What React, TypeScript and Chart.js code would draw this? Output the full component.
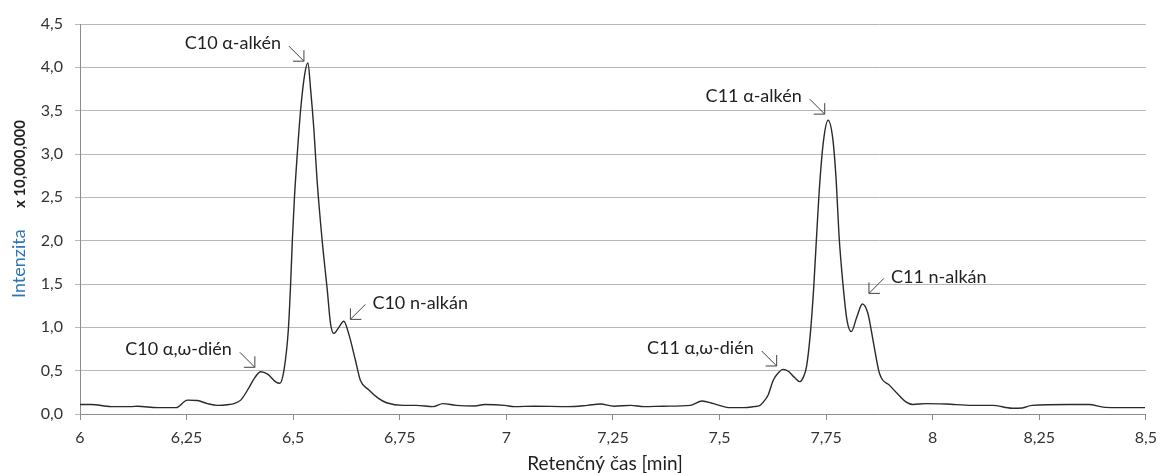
import React, { useEffect, useRef } from "react";
import { Chart, registerables } from "chart.js";

Chart.register(...registerables);

// Retention time [min]
const times = [
  6.0, 6.026, 6.073, 6.12, 6.135, 6.182, 6.225, 6.252, 6.275, 6.299, 6.322, 6.35, 6.361, 6.377,
  6.397, 6.41, 6.424, 6.44, 6.459, 6.4685, 6.4785, 6.4886, 6.494, 6.498, 6.503, 6.5096, 6.5175,
  6.527, 6.5345, 6.541, 6.5486, 6.556, 6.568, 6.58, 6.5875, 6.595, 6.607, 6.6186, 6.63, 6.646,
  6.6575, 6.677, 6.7, 6.719, 6.758, 6.789, 6.828, 6.851, 6.882, 6.926, 6.949, 6.996, 7.019, 7.066,
  7.144, 7.19, 7.22, 7.253, 7.292, 7.323, 7.369, 7.432, 7.459, 7.486, 7.525, 7.556, 7.58, 7.595,
  7.603, 7.614, 7.626, 7.637, 7.649, 7.662, 7.676, 7.688, 7.696, 7.704, 7.713, 7.721, 7.727,
  7.735, 7.744, 7.7546, 7.766, 7.774, 7.78, 7.79, 7.799, 7.809, 7.822, 7.835, 7.848, 7.86, 7.875,
  7.899, 7.922, 7.937, 7.953, 7.984, 8.031, 8.093, 8.14, 8.186, 8.21, 8.233, 8.319, 8.366, 8.404,
  8.498,
];

// Intensity x 10,000,000
const intensity = [
  0.11, 0.11, 0.085, 0.085, 0.09, 0.073, 0.073, 0.16, 0.155, 0.12, 0.1, 0.11, 0.12, 0.16,
  0.31, 0.42, 0.488, 0.46, 0.37, 0.354, 0.51, 0.97, 1.5, 2.0, 2.5, 3.0, 3.51,
  3.92, 4.05, 3.74, 3.28, 2.7, 2.0, 1.43, 1.046, 0.93, 1.0, 1.07, 0.93, 0.62,
  0.39, 0.28, 0.18, 0.13, 0.1, 0.1, 0.085, 0.12, 0.1, 0.092, 0.11, 0.1, 0.085, 0.09,
  0.085, 0.1, 0.115, 0.09, 0.1, 0.085, 0.09, 0.1, 0.15, 0.12, 0.073, 0.073, 0.085, 0.1,
  0.14, 0.22, 0.39, 0.47, 0.515, 0.49, 0.42, 0.373, 0.42, 0.546, 0.93, 1.47, 2.0,
  2.66, 3.16, 3.39, 3.16, 2.66, 2.08, 1.47, 1.08, 0.95, 1.12, 1.27, 1.16, 0.85, 0.47,
  0.33, 0.21, 0.14, 0.11, 0.12, 0.115, 0.1, 0.1, 0.066, 0.07, 0.1, 0.11, 0.11, 0.077,
  0.073,
];

const xTickValues = [6, 6.25, 6.5, 6.75, 7, 7.25, 7.5, 7.75, 8, 8.25, 8.5];
const xTickLabels = ["6", "6,25", "6,5", "6,75", "7", "7,25", "7,5", "7,75", "8", "8,25", "8,5"];
const yTickValues = [0, 0.5, 1, 1.5, 2, 2.5, 3, 3.5, 4, 4.5];
const yTickLabels = ["0,0", "0,5", "1,0", "1,5", "2,0", "2,5", "3,0", "3,5", "4,0", "4,5"];

// Peak labels: text, arrow tip (time, intensity)
const peakLabels = ["C10 α,ω-dién", "C10 α-alkén", "C10 n-alkán", "C11 α,ω-dién", "C11 α-alkén", "C11 n-alkán"];
const peakTipTimes = [6.4101, 6.5252, 6.6342, 7.634, 7.7467, 7.8504];
const peakTipValues = [0.539, 4.071, 1.092, 0.554, 3.46, 1.392];
// -1 = text on the left (arrow points down-right), 1 = text on the right
const peakSides = [-1, -1, 1, -1, -1, 1];

const FONT = "Lato, 'Open Sans', sans-serif";

const annotationPlugin = {
  id: "peakAnnotations",
  afterDatasetsDraw(chart: any) {
    const ctx = chart.ctx;
    const xs = chart.scales.x;
    const ys = chart.scales.y;
    ctx.save();
    peakLabels.forEach((label, i) => {
      const px = xs.getPixelForValue(peakTipTimes[i]);
      const py = ys.getPixelForValue(peakTipValues[i]);
      const side = peakSides[i];
      const len = 15;
      const head = 11;
      ctx.strokeStyle = "#404040";
      ctx.lineWidth = 1;
      ctx.beginPath();
      ctx.moveTo(px + side * len, py - len);
      ctx.lineTo(px, py);
      ctx.moveTo(px + side * head, py);
      ctx.lineTo(px, py);
      ctx.lineTo(px, py - head);
      ctx.stroke();
      ctx.fillStyle = "#1f1f1f";
      ctx.font = `18px ${FONT}`;
      ctx.textBaseline = "alphabetic";
      if (side < 0) {
        ctx.textAlign = "right";
        ctx.fillText(label, px - 23, py - 12);
      } else {
        ctx.textAlign = "left";
        ctx.fillText(label, px + 22, py - 10);
      }
    });
    ctx.restore();
  },
  afterDraw(chart: any) {
    const ctx = chart.ctx;
    ctx.save();
    // Y title (rotated)
    ctx.translate(25, 0);
    ctx.rotate(-Math.PI / 2);
    ctx.textBaseline = "alphabetic";
    ctx.textAlign = "left";
    ctx.fillStyle = "#2e75b6";
    ctx.font = `18px ${FONT}`;
    ctx.fillText("Intenzita", -298, 0);
    ctx.textAlign = "right";
    ctx.fillStyle = "#1f1f1f";
    ctx.font = `bold 15px ${FONT}`;
    ctx.fillText("x 10,000,000", -120, 0);
    ctx.restore();
    // X title
    ctx.save();
    ctx.textAlign = "center";
    ctx.textBaseline = "alphabetic";
    ctx.fillStyle = "#1f1f1f";
    ctx.font = `19px ${FONT}`;
    ctx.fillText("Retenčný čas [min]", 605, 470);
    ctx.restore();
  },
};

export default function App() {
  const canvasRef = useRef<HTMLCanvasElement | null>(null);

  useEffect(() => {
    document.body.style.margin = "0";
    const canvas = canvasRef.current;
    if (!canvas) return;
    const chart = new Chart(canvas, {
      type: "line",
      data: {
        datasets: [
          {
            data: times.map((t, i) => ({ x: t, y: intensity[i] })),
            borderColor: "#2a2a2a",
            borderWidth: 1.4,
            pointRadius: 0,
            fill: false,
            cubicInterpolationMode: "monotone",
          },
        ],
      },
      options: {
        responsive: false,
        animation: false,
        events: [],
        layout: { padding: { top: 24, right: 15, left: 0, bottom: 0 } },
        plugins: { legend: { display: false }, tooltip: { enabled: false } },
        scales: {
          x: {
            type: "linear",
            min: 6,
            max: 8.5,
            afterBuildTicks: (scale: any) => {
              scale.ticks = xTickValues.map((v) => ({ value: v }));
            },
            afterFit: (scale: any) => {
              scale.height = 59;
            },
            ticks: {
              autoSkip: false,
              maxRotation: 0,
              padding: 8,
              color: "#333333",
              font: { family: FONT, size: 16 },
              callback: (_v: any, idx: number) => xTickLabels[idx],
            },
            grid: { drawOnChartArea: false, drawTicks: true, tickLength: 6, color: "#8c8c8c" },
            border: { display: true, color: "#8c8c8c" },
          },
          y: {
            min: 0,
            max: 4.5,
            afterBuildTicks: (scale: any) => {
              scale.ticks = yTickValues.map((v) => ({ value: v }));
            },
            afterFit: (scale: any) => {
              scale.width = 80;
            },
            ticks: {
              padding: 12,
              color: "#333333",
              font: { family: FONT, size: 16 },
              callback: (_v: any, idx: number) => yTickLabels[idx],
            },
            grid: { color: "#b8b8b8", tickLength: 5, lineWidth: 1 },
            border: { display: true, color: "#8c8c8c" },
          },
        },
      },
      plugins: [annotationPlugin],
    } as any);
    return () => chart.destroy();
  }, []);

  return (
    <div style={{ width: 1165, height: 473 }}>
      <canvas ref={canvasRef} width={1165} height={473} style={{ display: "block" }} />
    </div>
  );
}
